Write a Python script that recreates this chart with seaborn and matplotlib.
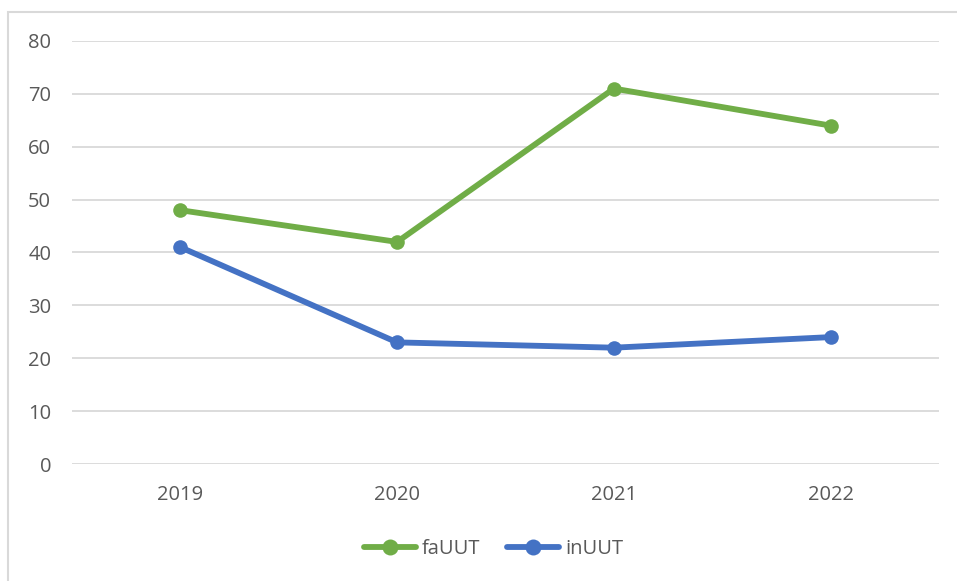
import matplotlib
matplotlib.use("Agg")
import matplotlib.pyplot as plt
import seaborn as sns
import pandas as pd
from matplotlib.patches import Rectangle
from matplotlib.lines import Line2D

years = ["2019", "2020", "2021", "2022"]
fauut = [48, 42, 71, 64]
inuut = [41, 23, 22, 24]
series_names = ["faUUT", "inUUT"]
colors = {"faUUT": "#70AD47", "inUUT": "#4472C4"}
y_ticks = [0, 10, 20, 30, 40, 50, 60, 70, 80]

df = pd.DataFrame({
    "year": years * 2,
    "value": fauut + inuut,
    "series": ["faUUT"] * 4 + ["inUUT"] * 4,
})

sns.set_theme(style="white")
plt.rcParams["font.family"] = ["Open Sans", "DejaVu Sans"]
text_color = "#595959"
fs = 14.5

fig = plt.figure(figsize=(9.57, 5.81), dpi=100)
W, H = 957, 581
ax = fig.add_axes([72 / W, 1 - 464 / H, (939 - 72) / W, (464 - 41) / H])

sns.lineplot(data=df, x="year", y="value", hue="series", palette=colors,
             marker="o", markersize=10.5, markeredgewidth=0, linewidth=4.2,
             ax=ax, legend=False, sort=False)

ax.set_xlim(-0.5, 3.5)
ax.set_ylim(0, 80)
ax.set_yticks(y_ticks)
ax.set_xlabel("")
ax.set_ylabel("")
ax.grid(axis="y", color="#D9D9D9", linewidth=1.3)
ax.grid(axis="x", visible=False)
ax.set_axisbelow(True)
for s in ax.spines.values():
    s.set_visible(False)
ax.tick_params(axis="y", length=0, pad=15, labelsize=fs, labelcolor=text_color)
ax.tick_params(axis="x", length=0, pad=15, labelsize=fs, labelcolor=text_color)

handles = [Line2D([0], [0], color=colors[n], linewidth=4.2, marker="o",
                  markersize=11.5, markeredgewidth=0) for n in series_names]
fig.legend(handles, series_names, loc="center", bbox_to_anchor=(0.5 + 15 / W, 1 - 549 / H),
           ncol=2, frameon=False, fontsize=fs, labelcolor=text_color,
           handlelength=2.6, handletextpad=0.3, columnspacing=1.3)

fig.patches.append(Rectangle((8 / W, -0.1), 1.2, 1.1 - 12 / H, transform=fig.transFigure,
                             fill=False, edgecolor="#D9D9D9", linewidth=1.5))

fig.savefig("out.png", dpi=100, facecolor="white")
